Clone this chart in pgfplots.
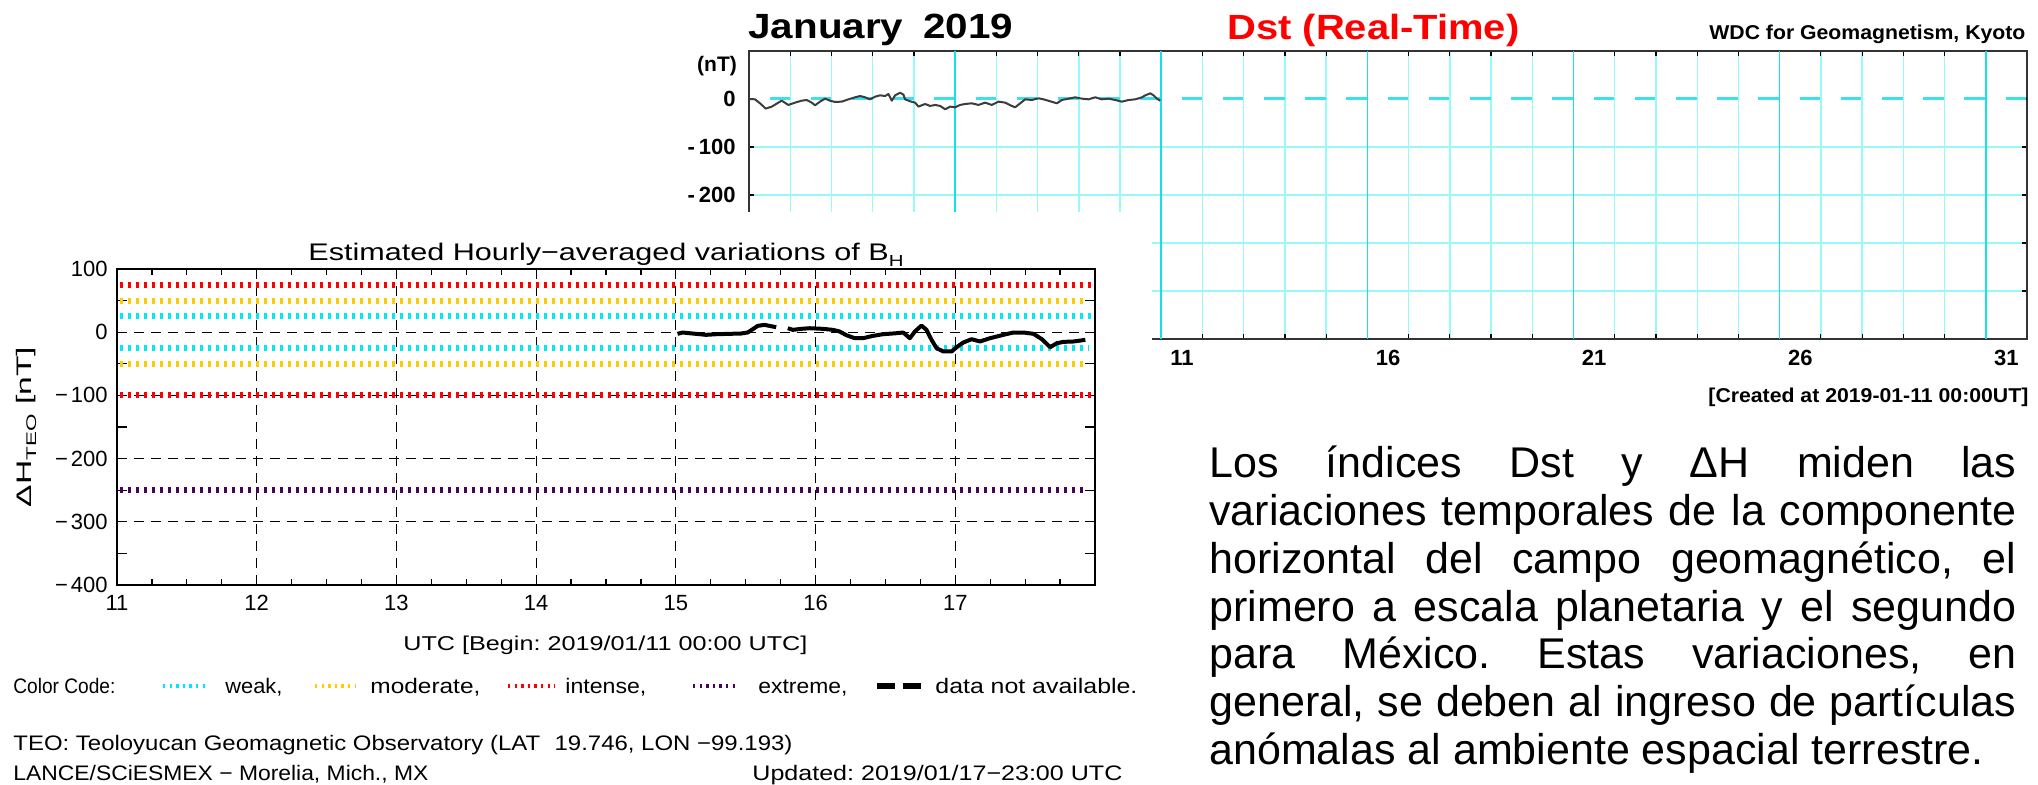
\documentclass[border=0pt]{standalone}
\usepackage{pgfplots}
\pgfplotsset{compat=1.18}
\usepackage{fontspec}
\setmainfont{Liberation Sans}
\newfontfamily\hf{Liberation Sans}
\usepackage{graphicx}
\frenchspacing
\definecolor{dstlight}{RGB}{150,250,250}
\definecolor{dststrong}{RGB}{20,225,235}
\definecolor{dstzero}{RGB}{60,225,235}
\definecolor{dstline}{RGB}{60,60,60}
\definecolor{bhcyan}{RGB}{0,232,250}
\definecolor{bhgold}{RGB}{255,204,0}
\definecolor{bhred}{RGB}{255,0,0}
\definecolor{bhpurple}{RGB}{75,0,90}
\newcommand{\fs}[1]{\fontsize{#1pt}{#1pt}\selectfont}
\newcommand{\fitw}[2]{\resizebox{#1pt}{\height}{#2}}
\newcommand{\mn}{−\kern1.5pt}
\pgfplotstableread{
d v
0.000 0
0.146 -0.7
0.267 -9
0.405 -20
0.550 -16
0.712 -7.6
0.793 -3.5
0.955 -12.4
1.117 -7.6
1.278 -3.5
1.400 -2.1
1.521 -7.6
1.602 -13.1
1.723 -5.5
1.845 0.7
1.966 -3.5
2.087 -6.2
2.249 -5.5
2.411 -0.7
2.573 3.5
2.694 6.2
2.816 3.5
2.937 -0.7
3.058 4.8
3.180 7.6
3.301 6.2
3.382 10.4
3.463 -3.5
3.544 7.6
3.665 13.1
3.746 9.0
3.786 -0.7
3.908 -4.8
4.029 -7.6
4.110 -15.9
4.272 -10.4
4.393 -14.5
4.515 -12.4
4.636 -14.5
4.757 -21.4
4.879 -15.9
5.000 -17.3
5.121 -12.4
5.243 -10.4
5.405 -9.0
5.566 -12.4
5.728 -7.6
5.890 -12.4
6.052 -5.5
6.214 -7.6
6.375 -14.5
6.456 -17.3
6.578 -9.0
6.699 -0.7
6.861 -2.1
7.023 1.4
7.144 -0.7
7.306 -4.8
7.468 -9.0
7.589 -2.1
7.751 0.7
7.913 3.5
8.074 0.7
8.236 -0.7
8.398 3.5
8.560 -0.7
8.722 0.7
8.883 -2.1
9.045 -5.5
9.207 -2.1
9.369 -0.7
9.531 3.5
9.612 7.6
9.733 11.8
9.814 7.6
9.895 0.7
9.976 -3.5
}\dsttable
\pgfplotstableread{
d v
15.012 -2.6
15.048 -0.5
15.096 -1.6
15.144 -2.6
15.215 -4.2
15.287 -3.2
15.383 -2.6
15.466 -2.1
15.514 -0.5
15.550 4.7
15.586 10
15.634 11.6
15.670 10
15.718 7.9
}\bhA
\pgfplotstableread{
d v
15.801 6.3
15.837 3.7
15.897 5.3
15.957 6.3
16.005 5.8
16.053 5.3
16.124 3.7
16.172 1.1
16.220 -4.7
16.280 -9.5
16.340 -9.5
16.411 -5.8
16.483 -3.2
16.579 -1.6
16.627 -0.5
16.675 -9.5
16.711 1.1
16.758 10.5
16.794 3.7
16.830 -12.1
16.866 -25.3
16.914 -30.5
16.974 -30.5
17.010 -23.7
17.057 -16.3
17.117 -11.1
17.177 -14.7
17.249 -9.5
17.344 -4.2
17.416 -0.5
17.488 -0.5
17.560 -2.6
17.620 -11.1
17.679 -23.7
17.727 -17.4
17.775 -15.3
17.847 -14.7
17.931 -12.1
}\bhB
\begin{document}
\begin{tikzpicture}
\path[use as bounding box] (0,0) rectangle (1019pt,-392.5pt);
% ---------------- Dst (Kyoto) ----------------
\begin{axis}[at={(374.5pt,-25.5pt)}, anchor=north west, scale only axis,
  width=639pt, height=144pt, xmin=0, xmax=31, ymin=-500, ymax=100,
  xtick={1,...,30}, xticklabels={},
  extra x ticks={10.5,15.5,20.5,25.5,30.5}, extra x tick labels={11,16,21,26,31},
  extra x tick style={grid=none, major tick length=0pt},
  ytick={-400,-300,-200,-100}, yticklabels={,,-\hspace{2pt}200,-\hspace{2pt}100},
  extra y ticks={0}, extra y tick labels={0}, extra y tick style={grid=none},
  grid=major, grid style={dstlight, line width=0.7pt},
  tick align=inside, major tick length=2.5pt,
  tick style={black, line width=0.6pt},
  axis line style={draw=black!80, line width=0.8pt},
  ticklabel style={font=\bfseries\fs{11}, inner sep=0pt},
  yticklabel style={xshift=-6.5pt},
  xticklabel style={yshift=-5.5pt},
]
\addplot[dstzero, line width=1.5pt, dash pattern=on 10.3pt off 10.3pt, dash phase=10.3pt] coordinates {(0,0)(31,0)};
\addplot[dststrong, line width=0.8pt] coordinates {(5,-500)(5,100)};
\addplot[dststrong, line width=0.8pt] coordinates {(10,-500)(10,100)};
\addplot[dststrong, line width=0.8pt] coordinates {(15,-500)(15,100)};
\addplot[dststrong, line width=0.8pt] coordinates {(20,-500)(20,100)};
\addplot[dststrong, line width=0.8pt] coordinates {(25,-500)(25,100)};
\addplot[dststrong, line width=0.8pt] coordinates {(30,-500)(30,100)};
\addplot[dstline, line width=1pt, line join=round] table[x=d,y=v] {\dsttable};
\end{axis}
\node[anchor=center, inner sep=0] at (358.5pt,-33pt) {\bfseries\fs{10.5}(nT)};
\node[anchor=base west, inner sep=0] at (374pt,-19.5pt) {\fitw{132.5}{\bfseries\fs{17.5}January\hspace{0.5em}2019}};
\node[anchor=base west, inner sep=0] at (613.5pt,-20pt) {\fitw{146}{\color{red}\bfseries\fs{17.5}Dst (Real-Time)}};
\node[anchor=base west, inner sep=0] at (854.5pt,-20pt) {\fitw{158}{\bfseries\fs{10}WDC for Geomagnetism, Kyoto}};
\node[anchor=base west, inner sep=0] at (854pt,-201.5pt) {\fitw{160}{\bfseries\fs{10}[Created at 2019-01-11 00:00UT]}};
% white panel covering the Dst chart
\fill[white] (0,-106pt) rectangle (576pt,-392.5pt);
% ---------------- Delta H (TEO) ----------------
\begin{axis}[at={(58.5pt,-134.5pt)}, anchor=north west, scale only axis,
  width=489pt, height=158pt, xmin=11, xmax=18, ymin=-400, ymax=100,
  xtick={11,...,18}, xticklabels={11,12,13,14,15,16,17},
  minor x tick num=3,
  ytick={-400,-300,...,100}, yticklabels={\mn400,\mn300,\mn200,\mn100,0,100},
  minor y tick num=1,
  tick align=inside,
  grid=major, grid style={black, line width=0.5pt, dash pattern=on 5pt off 3.5pt},
  xtick style={/pgfplots/major tick length=3pt, /pgfplots/minor tick length=3pt, black, line width=0.6pt},
  ytick style={/pgfplots/major tick length=5pt, /pgfplots/minor tick length=5pt, black, line width=0.6pt},
  axis line style={black, line width=0.7pt},
  ticklabel style={font=\hf\fs{11}, inner sep=0pt},
  yticklabel style={xshift=-4.5pt},
  xticklabel style={yshift=-5pt},
]
\addplot[bhred, line width=3pt, dash pattern=on 1.5pt off 2.5pt] coordinates {(11.02,75)(18,75)};
\addplot[bhgold, line width=3pt, dash pattern=on 1.5pt off 2.5pt] coordinates {(11.02,50)(17.93,50)};
\addplot[bhcyan, line width=3pt, dash pattern=on 1.5pt off 2.5pt] coordinates {(11.02,25)(18,25)};
\addplot[bhcyan, line width=3pt, dash pattern=on 1.5pt off 2.5pt] coordinates {(11.02,-25)(17.95,-25)};
\addplot[bhgold, line width=3pt, dash pattern=on 1.5pt off 2.5pt] coordinates {(11.02,-50)(17.93,-50)};
\addplot[bhred, line width=3pt, dash pattern=on 1.5pt off 2.5pt] coordinates {(11.02,-100)(18,-100)};
\addplot[bhpurple, line width=3pt, dash pattern=on 1.5pt off 2.5pt] coordinates {(11.02,-250)(17.93,-250)};
\addplot[black, line width=2pt, line join=round] table[x=d,y=v] {\bhA};
\addplot[black, line width=2pt, line join=round] table[x=d,y=v] {\bhB};
\end{axis}
\node[anchor=base west, inner sep=0] at (154pt,-130.5pt) {\fitw{297.5}{\hf\fs{12}Estimated Hourly−averaged variations of B\raisebox{-0.4ex}{\fs{8}H}}};
\node[rotate=90, inner sep=0] at (13pt,-213.5pt) {\fitw{80}{\hf\fs{10.5}ΔH\raisebox{-0.45ex}{\fs{7}TEO} [nT]}};
\node[anchor=base west, inner sep=0] at (201.5pt,-325pt) {\fitw{202}{\hf\fs{10}UTC [Begin: 2019/01/11 00:00 UTC]}};
% colour code line
\node[anchor=base west, inner sep=0] at (6.5pt,-346.5pt) {\fitw{51}{\hf\fs{10.5}Color Code:}};
\draw[bhcyan, line width=2.2pt, dash pattern=on 1.2pt off 2.1pt] (81.5pt,-343pt) -- (104.5pt,-343pt);
\node[anchor=base west, inner sep=0] at (112.5pt,-346.5pt) {\fitw{28.5}{\hf\fs{10.5}weak,}};
\draw[bhgold, line width=2.2pt, dash pattern=on 1.2pt off 2.1pt] (157.5pt,-343pt) -- (177.5pt,-343pt);
\node[anchor=base west, inner sep=0] at (185pt,-346.5pt) {\fitw{55}{\hf\fs{10.5}moderate,}};
\draw[bhred, line width=2.2pt, dash pattern=on 1.2pt off 2.1pt] (254pt,-343pt) -- (277.5pt,-343pt);
\node[anchor=base west, inner sep=0] at (282.5pt,-346.5pt) {\fitw{40.5}{\hf\fs{10.5}intense,}};
\draw[bhpurple, line width=2.2pt, dash pattern=on 1.2pt off 2.1pt] (346.5pt,-343pt) -- (368pt,-343pt);
\node[anchor=base west, inner sep=0] at (379pt,-346.5pt) {\fitw{44.5}{\hf\fs{10.5}extreme,}};
\draw[black, line width=3pt, dash pattern=on 9pt off 4pt] (438.5pt,-343pt) -- (460.5pt,-343pt);
\node[anchor=base west, inner sep=0] at (467.5pt,-346.5pt) {\fitw{101}{\hf\fs{10.5}data not available.}};
\node[anchor=base west, inner sep=0] at (6.5pt,-375pt) {\fitw{389.5}{\hf\fs{10.5}TEO: Teoloyucan Geomagnetic Observatory (LAT\hspace{0.6em}19.746, LON −99.193)}};
\node[anchor=base west, inner sep=0] at (6.5pt,-390pt) {\fitw{207.5}{\hf\fs{10.5}LANCE/SCiESMEX − Morelia, Mich., MX}};
\node[anchor=base west, inner sep=0] at (376pt,-390pt) {\fitw{185}{\hf\fs{10.5}Updated: 2019/01/17−23:00 UTC}};
% ---------------- Spanish paragraph ----------------
\begin{scope}[every node/.style={anchor=base west, inner sep=0, font=\fs{21.5}}]
\node at (604.5pt,-239pt) {\makebox[403.5pt][s]{Los índices Dst y ΔH miden las}};
\node at (604.5pt,-262.85pt) {\makebox[403.5pt][s]{variaciones temporales de la componente}};
\node at (604.5pt,-286.7pt) {\makebox[403.5pt][s]{horizontal del campo geomagnético, el}};
\node at (604.5pt,-310.55pt) {\makebox[403.5pt][s]{primero a escala planetaria y el segundo}};
\node at (604.5pt,-334.4pt) {\makebox[403.5pt][s]{para México. Estas variaciones, en}};
\node at (604.5pt,-358.25pt) {\makebox[403.5pt][s]{general, se deben al ingreso de partículas}};
\node at (604.5pt,-382.1pt) {anómalas al ambiente espacial terrestre.};
\end{scope}
\end{tikzpicture}
\end{document}
